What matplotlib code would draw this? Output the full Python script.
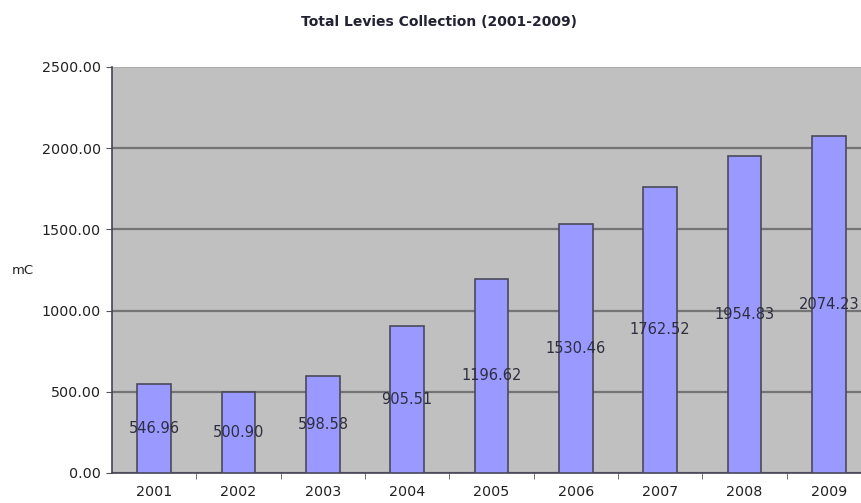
import numpy as np
from matplotlib import pyplot as plt

# values
years = ["2001", "2002", "2003", "2004", "2005", "2006", "2007", "2008", "2009"]
levies = [546.96, 500.90, 598.58, 905.51, 1196.62, 1530.46, 1762.52, 1954.83, 2074.23]
yticks = [0, 500, 1000, 1500, 2000, 2500]

fig = plt.figure(figsize=(8.62, 5.03), dpi=100)
# the plot area runs a little past the right edge of the picture, as in the reference
ax = fig.add_axes([112 / 862, 30 / 503, 759 / 862, 406 / 503])
ax.set_facecolor("#C0C0C0")

x = np.arange(len(years))
ax.bar(x, levies, width=0.4, color="#9999FF", edgecolor="#4a4a5a", linewidth=1.2, zorder=3)

# value labels sit at mid-height of each bar
for xi, v in zip(x, levies):
	ax.text(xi, v / 2, f"{v:.2f}", ha="center", va="center", fontsize=10.5,
		color="#2e2e40", zorder=4)

ax.set_xlim(-0.5, len(years) - 0.5)
ax.set_ylim(0, 2500)
ax.set_yticks(yticks)
ax.set_yticklabels([f"{t:.2f}" for t in yticks], fontsize=10.3, color="#222222")
ax.set_xticks(x)
ax.set_xticklabels(years, fontsize=10.3, color="#222222")
ax.set_xticks(np.arange(0.5, len(years) - 0.5, 1), minor=True)
ax.tick_params(axis="x", which="major", length=0, pad=9)
ax.tick_params(axis="x", which="minor", length=4, color="#555555", direction="out")
ax.tick_params(axis="y", length=4, color="#555555", direction="out", pad=4)

ax.yaxis.grid(True, color="#747474", linewidth=1.6, zorder=1)
ax.set_axisbelow(True)
# the line at the top of the plot area is thinner and lighter
top = ax.get_ygridlines()[-1]
top.set_color("#a8a8a8")
top.set_linewidth(1.2)

for side in ["top", "right"]:
	ax.spines[side].set_visible(False)
ax.spines["left"].set_color("#444455")
ax.spines["bottom"].set_color("#444455")
ax.spines["left"].set_linewidth(1.2)
ax.spines["bottom"].set_linewidth(1.2)

fig.text(439 / 862, 1 - 22 / 503, "Total Levies Collection (2001-2009)", ha="center",
	va="center", fontsize=10, fontweight="bold", color="#222233")
fig.text(23 / 862, 1 - 270 / 503, "mC", ha="center", va="center", fontsize=9.5,
	color="#222222")

fig.savefig("out.png", dpi=100)
